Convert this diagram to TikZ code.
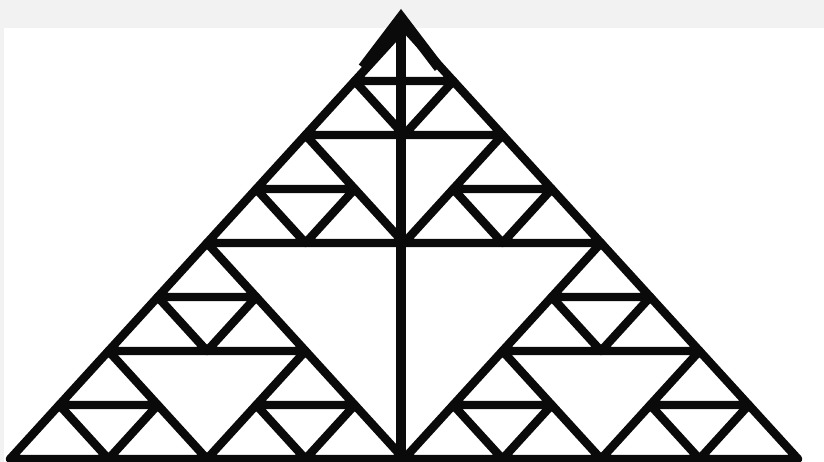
\documentclass[tikz,border=0pt]{standalone}
\usepackage{tikz}
\usetikzlibrary{arrows.meta}
\definecolor{SGFrame}{HTML}{F2F2F2}
\definecolor{SGInk}{HTML}{0A0A0A}

\begin{document}
\begin{tikzpicture}[
        x=0.01cm,y=0.01cm,
        edge/.style={draw=SGInk,line width=2.4pt,line join=round},
        pointer/.style={-{Straight Barb[length=5mm,width=7.6mm,line width=3pt]},draw=SGInk,line width=2.6pt}
      ]
      % page and grey frame
      \useasboundingbox (0,0) rectangle (824,462);
      \fill[white] (0,0) rectangle (824,462);
      \fill[SGFrame] (0,434) rectangle (824,462);
      \fill[SGFrame] (0,0) rectangle (4,434);

      % smallest triangles of the order 3 gasket
      \foreach \a in {0,1,2}{
        \foreach \b in {0,1,2}{
          \foreach \c in {0,1,2}{
            \pgfmathsetmacro{\px}{10+394*(\a==1)+197*(\a==2)+197*(\b==1)+98.5*(\b==2)+98.5*(\c==1)+49.25*(\c==2)}
            \pgfmathsetmacro{\py}{3+216*(\a==2)+108*(\b==2)+54*(\c==2)}
            \draw[edge] (\px,\py) -- ++(98.5,0) -- ++(-49.25,54) -- cycle;
          }
        }
      }

      \coordinate (foot) at (401,3);
      \coordinate (tip) at (401,453);
      \draw[pointer] (foot) -- (tip);
    \end{tikzpicture}
\end{document}
